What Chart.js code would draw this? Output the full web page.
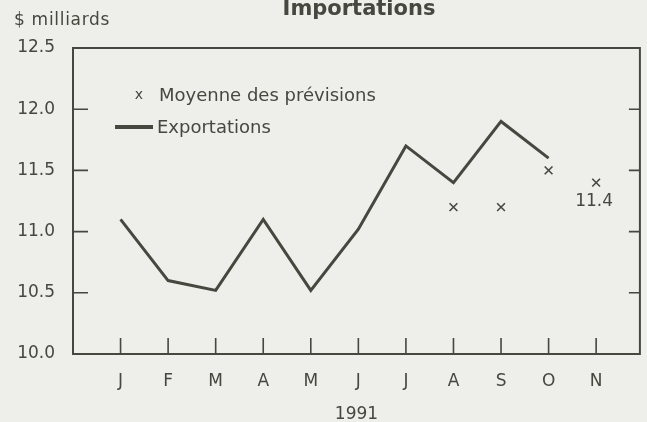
<!DOCTYPE html>
<html lang="fr">
<head>
    <meta charset="UTF-8">
    <title>Importations</title>
    <style>
        body {
            margin: 0;
            background-color: #eeeeea;
        }
        canvas {
            display: block;
        }
    </style>
    <script src="https://cdn.jsdelivr.net/npm/chart.js"></script>
</head>
<body>
    <canvas id="chart" width="647" height="422"></canvas>

    <script>
        // Données (1991)
        const months = ['J', 'F', 'M', 'A', 'M', 'J', 'J', 'A', 'S', 'O', 'N'];
        const exportations = [11.1, 10.6, 10.52, 11.1, 10.52, 11.02, 11.7, 11.4, 11.9, 11.6];
        const previsions = [null, null, null, null, null, null, null, 11.2, 11.2, 11.5, 11.4];
        const yTicks = [10.0, 10.5, 11.0, 11.5, 12.0, 12.5];
        const lastLabel = '11.4';

        const ink = '#46473f';
        const font = 'DejaVu Sans';

        const exportPoints = exportations.map((v, i) => ({ x: i, y: v }));
        const previsionPoints = previsions
            .map((v, i) => ({ x: i, y: v }))
            .filter(p => p.y !== null);

        // cadre, graduations vers l'intérieur, textes et légende
        const decor = {
            id: 'decor',
            afterDraw(chart) {
                const ctx = chart.ctx;
                const a = chart.chartArea;
                const xs = chart.scales.x;
                const ys = chart.scales.y;

                ctx.save();
                ctx.strokeStyle = ink;
                ctx.lineWidth = 2;
                ctx.strokeRect(a.left, a.top, a.right - a.left, a.bottom - a.top);

                ctx.beginPath();
                yTicks.slice(1, -1).forEach(v => {
                    const y = ys.getPixelForValue(v);
                    ctx.moveTo(a.left, y);
                    ctx.lineTo(a.left + 15, y);
                    ctx.moveTo(a.right, y);
                    ctx.lineTo(a.right - 11, y);
                });
                months.forEach((m, i) => {
                    const x = xs.getPixelForValue(i);
                    ctx.moveTo(x, a.bottom);
                    ctx.lineTo(x, a.bottom - 16);
                });
                ctx.lineWidth = 1.6;
                ctx.stroke();

                ctx.fillStyle = ink;
                ctx.textBaseline = 'alphabetic';
                ctx.font = 'bold 21px "' + font + '"';
                ctx.textAlign = 'center';
                ctx.fillText('Importations', 359, 15);

                ctx.font = '17px "' + font + '"';
                ctx.textAlign = 'left';
                ctx.letterSpacing = '0.7px';
                ctx.fillText('$ milliards', 14, 25);
                ctx.letterSpacing = '0px';

                // légende
                ctx.textBaseline = 'middle';
                ctx.font = '18px "' + font + '"';
                ctx.fillText('Moyenne des prévisions', 159, 96);
                ctx.fillText('Exportations', 157, 128);
                ctx.font = '14px "' + font + '"';
                ctx.textAlign = 'center';
                ctx.fillText('x', 139, 95);
                ctx.beginPath();
                ctx.moveTo(115, 127);
                ctx.lineTo(153, 127);
                ctx.lineWidth = 4;
                ctx.stroke();

                // valeur de novembre
                ctx.font = '17px "' + font + '"';
                const last = previsionPoints[previsionPoints.length - 1];
                ctx.fillText(lastLabel, xs.getPixelForValue(last.x) - 2, ys.getPixelForValue(last.y) + 19);
                ctx.restore();
            }
        };

        new Chart(document.getElementById('chart'), {
            type: 'scatter',
            data: {
                datasets: [
                    {
                        label: 'Exportations',
                        data: exportPoints,
                        showLine: true,
                        borderColor: ink,
                        borderWidth: 3,
                        pointRadius: 0,
                        tension: 0
                    },
                    {
                        label: 'Moyenne des prévisions',
                        data: previsionPoints,
                        showLine: false,
                        pointStyle: 'crossRot',
                        pointRadius: 5.5,
                        borderColor: ink,
                        borderWidth: 1.6
                    }
                ]
            },
            options: {
                responsive: false,
                animation: false,
                layout: { padding: { top: 48, right: 4, bottom: 0, left: 0 } },
                plugins: {
                    legend: { display: false },
                    tooltip: { enabled: false }
                },
                scales: {
                    x: {
                        type: 'linear',
                        min: -1,
                        max: 10.92,
                        afterBuildTicks: s => { s.ticks = months.map((m, i) => ({ value: i })); },
                        afterFit: s => { s.height = 68; },
                        grid: { display: false, drawTicks: false },
                        border: { display: false },
                        ticks: {
                            autoSkip: false,
                            maxRotation: 0,
                            padding: 17,
                            color: ink,
                            font: { family: font, size: 17 },
                            callback: v => months[v]
                        },
                        title: {
                            display: true,
                            text: '1991',
                            color: ink,
                            padding: { top: 0, bottom: -3 },
                            font: { family: font, size: 17 }
                        }
                    },
                    y: {
                        min: 10,
                        max: 12.5,
                        afterBuildTicks: s => { s.ticks = yTicks.map(v => ({ value: v })); },
                        afterFit: s => { s.width = 73; },
                        grid: { display: false, drawTicks: false },
                        border: { display: false },
                        ticks: {
                            padding: 18,
                            color: ink,
                            font: { family: font, size: 17 },
                            callback: v => v.toFixed(1)
                        }
                    }
                }
            },
            plugins: [decor]
        });
    </script>
</body>
</html>
